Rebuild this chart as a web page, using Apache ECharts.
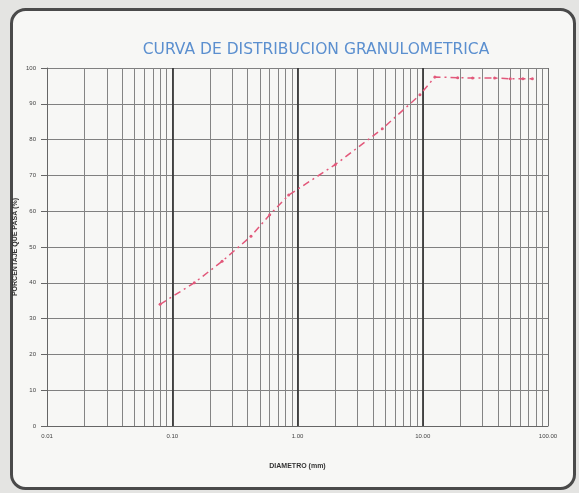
<!DOCTYPE html>
<html><head><meta charset="utf-8">
<script src="https://cdn.jsdelivr.net/npm/echarts@6/dist/echarts.min.js"></script>
<style>html,body{margin:0;padding:0;background:#e4e4e2;}#c{width:579px;height:493px;}</style>
</head><body><div id="c"></div>
<script>
const diameters = [0.08, 0.15, 0.25, 0.425, 0.6, 0.85, 2.0, 4.75, 9.5, 12.5, 19, 25, 37.5, 50, 63, 75];
const percentPassing = [34, 40, 46, 53, 59, 64.5, 73, 83, 92.5, 97.5, 97.3, 97.2, 97.2, 97, 97, 97];
const xTickLabels = ['0.01', '0.10', '1.00', '10.00', '100.00'];
const yTicks = [0, 10, 20, 30, 40, 50, 60, 70, 80, 90, 100];
const decades = [0.01, 0.1, 1, 10];
const minorMultipliers = [2, 3, 4, 5, 6, 7, 8, 9];

const minorLines = [];
decades.forEach(d => minorMultipliers.forEach(m => minorLines.push({xAxis: +(d * m).toPrecision(3)})));
const majorLines = [0.1, 1, 10].map(v => ({xAxis: v}));

const chart = echarts.init(document.getElementById('c'));
chart.setOption({
  backgroundColor: '#e4e4e2',
  animation: false,
  graphic: [{
    type: 'rect', left: 10, top: 8, z: -10,
    shape: {width: 563, height: 479, r: 14},
    style: {fill: '#f7f7f5', stroke: '#4a4a4a', lineWidth: 3}
  }],
  title: {
    text: 'CURVA DE DISTRIBUCION GRANULOMETRICA',
    left: 311, top: 37, textAlign: 'center',
    textStyle: {color: '#5b8fcf', fontSize: 15.5, fontWeight: 'normal', fontFamily: 'DejaVu Sans'}
  },
  grid: {left: 47, right: 31, top: 68, bottom: 67},
  xAxis: {
    type: 'log', min: 0.01, max: 100, logBase: 10,
    name: 'DIAMETRO (mm)', nameLocation: 'middle', nameGap: 37, nameMoveOverlap: false,
    nameTextStyle: {fontSize: 7, color: '#333', fontWeight: 'bold'},
    axisLine: {show: true, lineStyle: {color: '#666', width: 1}},
    axisTick: {show: false},
    axisLabel: {fontSize: 6, color: '#444', margin: 7,
      formatter: v => { const i = Math.round(Math.log10(v)) + 2; return xTickLabels[i] || ''; }},
    splitLine: {show: true, lineStyle: {color: '#6f6f6f', width: 1}}
  },
  yAxis: {
    type: 'value', min: 0, max: 100, interval: 10,
    name: 'PORCENTAJE QUE PASA (%)', nameLocation: 'middle', nameGap: 28, nameRotate: 90, nameMoveOverlap: false,
    nameTextStyle: {fontSize: 7, color: '#333', fontWeight: 'bold'},
    axisLine: {show: true, lineStyle: {color: '#666'}},
    axisTick: {show: true, length: 6, lineStyle: {color: '#666'}},
    axisLabel: {fontSize: 6, color: '#444', margin: 11,
      formatter: v => yTicks.includes(v) ? String(v) : ''},
    splitLine: {show: true, lineStyle: {color: '#808080', width: 1}}
  },
  series: [{
    type: 'line',
    data: diameters.map((d, i) => [d, percentPassing[i]]),
    symbol: 'circle', symbolSize: 3,
    itemStyle: {color: '#e2587a'},
    lineStyle: {color: '#e2587a', width: 1.5, type: [7, 4, 2, 4]},
    z: 5,
    markLine: {
      silent: true, symbol: 'none', label: {show: false}, z: 1,
      data: minorLines.map(l => Object.assign({lineStyle: {color: '#848484', width: 1, type: 'solid'}}, l))
        .concat(majorLines.map(l => Object.assign({lineStyle: {color: '#3c3c3c', width: 1.8, type: 'solid'}}, l)))
    }
  }]
});
</script></body></html>
